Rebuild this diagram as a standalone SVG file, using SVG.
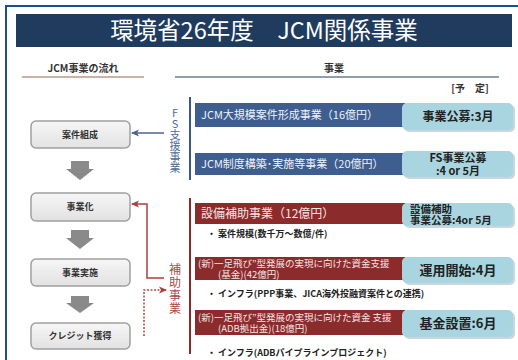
<svg xmlns="http://www.w3.org/2000/svg" width="518" height="360" viewBox="0 0 518 360">
<style>
text{font-family:"Noto Sans CJK JP","Noto Sans",sans-serif}
.flow rect{fill:url(#gb);stroke:#a0a0a0;stroke-width:1.5}
.flow text{font-size:9px;font-weight:bold;fill:#333;text-anchor:middle}
.bb{fill:#3d5e8e}
.rb{fill:#8c2b2c}
.lb{fill:#a8d5e0}
.sh{fill:#c8d8dc}
.bt{font-size:11px;fill:#eef2fa}
.rt{font-size:9.5px;fill:#f6e4e4}
.lt{font-size:12px;font-weight:bold;fill:#222;text-anchor:middle}
.lts{font-size:10.5px;font-weight:bold;fill:#222;text-anchor:start}
.bul{font-size:9px;font-weight:bold;fill:#222}
.vt{writing-mode:vertical-rl;text-orientation:upright;text-anchor:start}
.vb{font-size:11px;fill:#4d6c98}
.vr{font-size:12px;letter-spacing:1px;fill:#b0494a}
.ga{fill:#8a8a8a}
</style>
<defs>
<linearGradient id="gb" x1="0" y1="0" x2="0" y2="1">
<stop offset="0" stop-color="#f6f6f6"/>
<stop offset="1" stop-color="#e2e2e2"/>
</linearGradient>
<marker id="ab" markerWidth="8" markerHeight="8" refX="7" refY="4" orient="auto" markerUnits="userSpaceOnUse">
<path d="M8,4 L0,0.5 L2,4 L0,7.5 Z" fill="#4b6590"/>
</marker>
<marker id="ar" markerWidth="8" markerHeight="8" refX="7" refY="4" orient="auto" markerUnits="userSpaceOnUse">
<path d="M8,4 L0,0.5 L2,4 L0,7.5 Z" fill="#a8403f"/>
</marker>
</defs>
<rect x="0" y="0" width="518" height="360" fill="#fff"/>
<rect x="6" y="6" width="530" height="380" fill="#fff" stroke="#1d4f8a" stroke-width="2"/>
<g id="title">
<rect x="16" y="14" width="496" height="33" fill="#1f3b5e"/>
<text x="264" y="39" font-size="23.5" fill="#fff" text-anchor="middle">環境省26年度　JCM関係事業</text>
</g>
<g id="headers">
<text x="83" y="72" font-size="10" font-weight="bold" fill="#333" text-anchor="middle">JCM事業の流れ</text>
<line x1="22" y1="77" x2="144" y2="77" stroke="#b89a86" stroke-width="1.5"/>
<text x="334" y="72" font-size="10" font-weight="bold" fill="#333" text-anchor="middle">事業</text>
<line x1="175" y1="77" x2="499" y2="77" stroke="#6d7e96" stroke-width="1.5"/>
<text x="470" y="92" font-size="10" font-weight="bold" fill="#333" text-anchor="middle">[予　定]</text>
</g>
<g id="flow1" class="flow"><rect x="31" y="121" width="99" height="27" rx="5"/><text x="80" y="138">案件組成</text></g>
<g id="flow2" class="flow"><rect x="31" y="193" width="99" height="28" rx="5"/><text x="80" y="210">事業化</text></g>
<g id="flow3" class="flow"><rect x="31" y="259" width="99" height="27" rx="5"/><text x="80" y="276">事業実施</text></g>
<g id="flow4" class="flow"><rect x="31" y="323" width="99" height="26" rx="5"/><text x="80" y="339">クレジット獲得</text></g>
<g id="fs-label">
<text class="vt vb" x="175" y="107">FS支援事業</text>
<line x1="190" y1="97" x2="190" y2="180" stroke="#3a5a8a" stroke-width="2"/>
</g>
<g id="hojo-label">
<text class="vt vr" x="175" y="263">補助事業</text>
<line x1="190" y1="198" x2="190" y2="354" stroke="#8c2b2c" stroke-width="2"/>
</g>
<g id="fs1">
<rect class="bb" x="195" y="103" width="210" height="24"/>
<text class="bt" x="201" y="119">JCM大規模案件形成事業（16億円）</text>
<rect class="sh" x="404" y="105" width="111" height="27" rx="5"/>
<rect class="lb" x="402" y="103" width="111" height="27" rx="5"/>
<text class="lt" x="458" y="121">事業公募:3月</text>
</g>
<g id="fs2">
<rect class="bb" x="195" y="153" width="210" height="22"/>
<text class="bt" x="201" y="168">JCM制度構築･実施等事業（20億円）</text>
<rect class="sh" x="404" y="153" width="111" height="26" rx="5"/>
<rect class="lb" x="402" y="151" width="111" height="26" rx="5"/>
<text class="lt" style="font-size:11px"><tspan x="458" y="162">FS事業公募</tspan><tspan x="458" y="175">:4 or 5月</tspan></text>
</g>
<g id="hojo1">
<rect class="rb" x="195" y="203" width="210" height="21"/>
<text class="bt" x="201" y="218" style="font-size:12px;fill:#f6e4e4">設備補助事業（12億円）</text>
<rect class="sh" x="404" y="205" width="111" height="23" rx="5"/>
<rect class="lb" x="402" y="203" width="111" height="23" rx="5"/>
<text class="lts"><tspan x="410" y="213">設備補助</tspan><tspan x="410" y="224">事業公募:4or 5月</tspan></text>
<text class="bul" x="207" y="237">・ 案件規模(数千万～数億/件)</text>
</g>
<g id="hojo2">
<rect class="rb" x="195" y="257" width="210" height="23"/>
<text class="rt"><tspan x="198" y="267">(新)一足飛び”型発展の実現に向けた資金支援</tspan><tspan x="218" y="278">(基金)(42億円)</tspan></text>
<rect class="sh" x="404" y="259" width="111" height="26" rx="5"/>
<rect class="lb" x="402" y="257" width="111" height="26" rx="5"/>
<text class="lt" x="458" y="275" style="font-size:13px">運用開始:4月</text>
<text class="bul" x="207" y="297">・ インフラ(PPP事業、JICA海外投融資案件との連携)</text>
</g>
<g id="hojo3">
<rect class="rb" x="195" y="310" width="210" height="25"/>
<text class="rt"><tspan x="198" y="321">(新)一足飛び”型発展の実現に向けた資金 支援</tspan><tspan x="218" y="332">(ADB拠出金)(18億円)</tspan></text>
<rect class="sh" x="404" y="312" width="111" height="27" rx="5"/>
<rect class="lb" x="402" y="310" width="111" height="27" rx="5"/>
<text class="lt" x="458" y="328" style="font-size:13px">基金設置:6月</text>
<text class="bul" x="207" y="356">・ インフラ(ADBパイプラインプロジェクト)</text>
</g>
<g id="connectors">
<path class="ga" d="M71,161 H89 V169 H94 L80,180 L66,169 H71 Z"/>
<path class="ga" d="M71,230 H89 V238 H94 L80,249 L66,238 H71 Z"/>
<path class="ga" d="M71,296 H89 V303 H94 L80,313 L66,303 H71 Z"/>
<line x1="164" y1="133" x2="132" y2="133" stroke="#4b6590" stroke-width="1.5" marker-end="url(#ab)"/>
<path d="M164,278 H147 V204 H132" fill="none" stroke="#a8403f" stroke-width="1.5" marker-end="url(#ar)"/>
<path d="M144,336 V290 H166" fill="none" stroke="#b04848" stroke-width="1.5" stroke-dasharray="2,1.5" marker-end="url(#ar)"/>
</g>
</svg>
